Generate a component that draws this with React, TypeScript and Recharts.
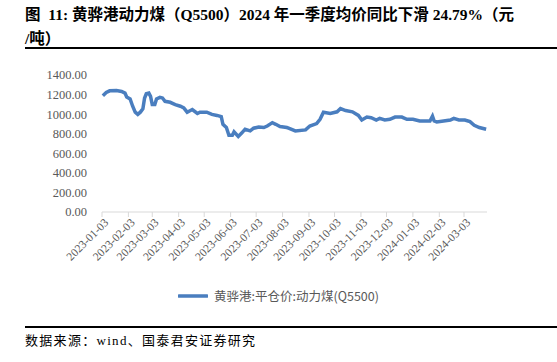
import { LineChart, Line, XAxis, YAxis, Legend } from 'recharts'

const dates = [
  '2023-01-04', '2023-01-08', '2023-01-12', '2023-01-20', '2023-01-26', '2023-01-30',
  '2023-02-01', '2023-02-05', '2023-02-08', '2023-02-11', '2023-02-14', '2023-02-17',
  '2023-02-20', '2023-02-22', '2023-02-24', '2023-02-27', '2023-03-01', '2023-03-03',
  '2023-03-06', '2023-03-08', '2023-03-12', '2023-03-15', '2023-03-18', '2023-03-24',
  '2023-03-30', '2023-04-05', '2023-04-09', '2023-04-13', '2023-04-19', '2023-04-25',
  '2023-04-28', '2023-05-06', '2023-05-12', '2023-05-18', '2023-05-23', '2023-05-25',
  '2023-05-29', '2023-06-01', '2023-06-05', '2023-06-07', '2023-06-12', '2023-06-16',
  '2023-06-20', '2023-06-26', '2023-06-30', '2023-07-06', '2023-07-12', '2023-07-16',
  '2023-07-22', '2023-07-26', '2023-07-31', '2023-08-08', '2023-08-10', '2023-08-18',
  '2023-08-30', '2023-09-04', '2023-09-12', '2023-09-16', '2023-09-20', '2023-09-28',
  '2023-10-06', '2023-10-10', '2023-10-16', '2023-10-24', '2023-10-31', '2023-11-04',
  '2023-11-10', '2023-11-15', '2023-11-21', '2023-11-25', '2023-12-01', '2023-12-07',
  '2023-12-13', '2023-12-21', '2023-12-27', '2024-01-03', '2024-01-11', '2024-01-23',
  '2024-01-26', '2024-01-28', '2024-01-31', '2024-02-08', '2024-02-16', '2024-02-20',
  '2024-02-26', '2024-03-04', '2024-03-10', '2024-03-15', '2024-03-21', '2024-03-29',
]

const prices = [
  1188, 1221, 1238, 1241, 1232, 1215,
  1175, 1155, 1081, 1020, 997, 1020,
  1054, 1165, 1208, 1215, 1181, 1098,
  1098, 1155, 1171, 1165, 1131, 1121,
  1098, 1081, 1064, 1020, 1047, 1007,
  1020, 1020, 997, 987, 974, 896,
  863, 785, 785, 819, 772, 806,
  846, 829, 856, 869, 863, 879,
  913, 896, 873, 863, 856, 829,
  839, 879, 903, 947, 1020, 1007,
  1024, 1057, 1037, 1024, 987, 940,
  970, 964, 940, 957, 940, 947,
  970, 970, 947, 947, 930, 930,
  980, 930, 920, 930, 940, 957,
  940, 940, 923, 886, 863, 846,
]

const tickLabels = [
  '2023-01-03', '2023-02-03', '2023-03-03', '2023-04-03', '2023-05-03',
  '2023-06-03', '2023-07-03', '2023-08-03', '2023-09-03', '2023-10-03',
  '2023-11-03', '2023-12-03', '2024-01-03', '2024-02-03', '2024-03-03',
]

const yTicks = [0, 200, 400, 600, 800, 1000, 1200, 1400]

const toTime = (d: string) => Date.parse(d + 'T00:00:00Z')
const fmtDate = (t: number) => new Date(t).toISOString().slice(0, 10)

const data = dates.map((d, i) => ({ t: toTime(d), price: prices[i] }))
const xTicks = tickLabels.map(toTime)

const serif = '"Liberation Serif", "Times New Roman", "Noto Sans CJK SC", serif'
const blue = '#4a7ebf'

function XTick(props: any) {
  const { x, y, payload } = props
  return (
    <g transform={`translate(${x},${y})`}>
      <text
        x={0}
        y={0}
        dy={8}
        dx={2}
        textAnchor="end"
        transform="rotate(-45)"
        fill="#595959"
        fontSize={11.5}
        fontFamily={serif}
      >
        {fmtDate(payload.value)}
      </text>
    </g>
  )
}

function LegendBox() {
  return (
    <div style={{ display: 'flex', alignItems: 'center', justifyContent: 'center' }}>
      <svg width={30} height={8} style={{ marginRight: 6 }}>
        <line x1={1} y1={4} x2={29} y2={4} stroke={blue} strokeWidth={3.5} strokeLinecap="round" />
      </svg>
      <span style={{ fontFamily: '"Noto Sans CJK SC", sans-serif', fontSize: 12.5, color: '#595959' }}>
        黄骅港:平仓价:动力煤(Q5500)
      </span>
    </div>
  )
}

export default function App() {
  return (
    <div style={{ position: 'absolute', left: 0, top: 0, width: 557, height: 362, background: '#fff', fontFamily: serif }}>
      <div style={{ position: 'absolute', left: 25, top: 3, fontSize: 15.5, fontWeight: 'bold', lineHeight: '24px', whiteSpace: 'nowrap' }}>
        图&nbsp; 11: 黄骅港动力煤（Q5500）2024 年一季度均价同比下滑 24.79%（元
        <br />
        /吨）
      </div>
      <div style={{ position: 'absolute', left: 25, top: 47, width: 532, height: 2, background: '#000' }} />
      <div style={{ position: 'absolute', left: 0, top: 50 }}>
        <LineChart width={557} height={262} data={data} margin={{ top: 25, right: 70, bottom: 0, left: 12 }}>
          <XAxis
            dataKey="t"
            type="number"
            scale="time"
            domain={[toTime('2023-01-03'), toTime('2024-03-30')]}
            ticks={xTicks}
            tick={<XTick />}
            tickLine={{ stroke: '#d9d9d9' }}
            tickSize={5}
            axisLine={{ stroke: '#d9d9d9' }}
            interval={0}
            height={81}
          />
          <YAxis
            domain={[0, 1400]}
            ticks={yTicks}
            interval={0}
            tickFormatter={(v: number) => v.toFixed(2)}
            axisLine={false}
            tickLine={false}
            tickSize={0}
            tickMargin={15}
            width={90}
            tick={{ fill: '#595959', fontSize: 12.5, fontFamily: serif }}
          />
          <Legend
            content={<LegendBox />}
            wrapperStyle={{ top: 236, left: 0, width: 557 }}
          />
          <Line
            type="linear"
            dataKey="price"
            stroke={blue}
            strokeWidth={3.5}
            dot={false}
            isAnimationActive={false}
          />
        </LineChart>
      </div>
      <div style={{ position: 'absolute', left: 25, top: 326, width: 532, height: 2, background: '#000' }} />
      <div style={{ position: 'absolute', left: 25, top: 332, fontSize: 13, lineHeight: '18px', letterSpacing: 1.3 }}>
        数据来源：wind、国泰君安证券研究
      </div>
    </div>
  )
}
